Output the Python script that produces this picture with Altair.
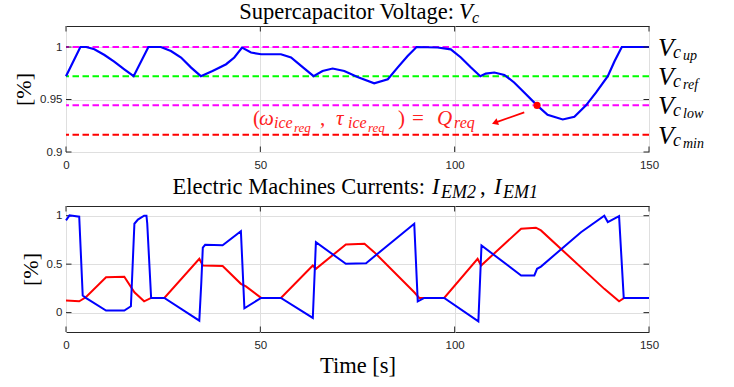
import altair as alt
import pandas as pd

# ---------------- data ----------------
# Supercapacitor voltage (top panel)
vc_t = [0, 3.7, 5.2, 7.3, 9.9, 12.4, 15.0, 17.4, 21.2, 24.4, 27.0, 29.6, 32.2, 34.7,
        37.7, 41.2, 43.3, 45.3, 47.6, 50.2, 55.3, 57.9, 60.5, 63.7, 66.0, 68.6, 71.6,
        75.0, 79.3, 82.8, 85.3, 87.9, 90.2, 95.6, 99.0, 101.6, 104.2, 106.6, 108.0,
        110.2, 112.8, 115.3, 117.9, 121.2, 123.9, 127.8, 130.8, 133.8, 136.4, 139.4,
        141.1, 143.0, 150]
vc_v = [0.9722, 1.0, 1.0, 0.9978, 0.9924, 0.9861, 0.9788, 0.9722, 1.0, 1.0, 0.9962,
        0.99, 0.9804, 0.9722, 0.9772, 0.9836, 0.99, 0.9994, 0.9947, 0.9931, 0.9931,
        0.99, 0.982, 0.9722, 0.9772, 0.9795, 0.9772, 0.9715, 0.9655, 0.9693, 0.9804,
        0.9915, 1.0, 0.9995, 0.9978, 0.99, 0.9804, 0.9722, 0.9747, 0.9757, 0.9734,
        0.9662, 0.9567, 0.9444, 0.9354, 0.931, 0.9335, 0.9444, 0.9567, 0.9722, 0.9861,
        1.0, 1.0]

# reference levels
ref_vals = [1.0, 0.9722, 0.9446, 0.9164]
ref_colors = ["#ff00ff", "#00ff00", "#ff00ff", "#ff0000"]
ref_subs = ["up", "ref", "low", "min"]

# marked point and arrow
pt_t, pt_v = [121.2], [0.9444]
arrow_t = [117.9, 110.6]
arrow_v = [0.9377, 0.9282]

# Electric machine currents (bottom panel)
red_t = [0, 3.4, 5.1, 10.3, 15.0, 17.6, 20.1, 21.9, 25.3, 34.3, 35.2, 40.3, 45.0, 46.3,
         50.2, 55.3, 63.5, 64.3, 72.0, 76.8, 79.3, 89.6, 90.9, 97.3, 105.9, 106.8,
         117.1, 120.9, 122.2, 138.5, 142.3, 143.6, 150]
red_v = [0.124, 0.117, 0.158, 0.365, 0.37, 0.21, 0.117, 0.152, 0.152, 0.555, 0.486,
         0.48, 0.297, 0.27, 0.152, 0.152, 0.486, 0.452, 0.703, 0.71, 0.624, 0.21, 0.152,
         0.152, 0.555, 0.486, 0.866, 0.876, 0.848, 0.245, 0.117, 0.152, 0.152]
blue_t = [0, 0.9, 1.7, 3.4, 4.3, 5.1, 10.3, 15.0, 16.7, 17.6, 18.5, 20.1, 20.7, 20.9,
          21.9, 25.3, 34.3, 34.8, 35.2, 35.8, 40.3, 45.0, 45.9, 50.2, 55.3, 63.5, 64.3,
          72.0, 77.2, 89.6, 90.5, 92.2, 97.3, 106.1, 106.9, 117.1, 120.5, 121.2, 122.2,
          132.5, 138.5, 139.4, 142.3, 143.5, 150]
blue_v = [0.952, 1.003, 1.0, 0.99, 0.176, 0.152, 0.021, 0.021, 0.065, 0.917, 0.96, 1.0,
          1.0, 0.92, 0.152, 0.152, -0.083, 0.3, 0.67, 0.70, 0.695, 0.84, 0.045, 0.152,
          0.152, -0.055, 0.727, 0.503, 0.51, 0.917, 0.117, 0.152, 0.152, -0.09, 0.693,
          0.383, 0.383, 0.452, 0.475, 0.83, 1.0, 0.934, 0.995, 0.152, 0.152]

x_ticks = [0, 50, 100, 150]
y_ticks_top = [0.9, 0.95, 1.0]
y_ticks_bot = [0, 0.5, 1]

# ---------------- styling ----------------
W, H = 583, 126
SERIF = "Liberation Serif"
SANS = "Liberation Sans"
GRID = "#dfdfdf"
FRAME = "#262626"
TICK = 5.5

one = pd.DataFrame({"a": [0]})


def piece(text, x, y, size, style="normal", color="black", align="left"):
    return alt.Chart(one).mark_text(
        text=text, font=SERIF, fontSize=size, fontStyle=style, color=color,
        align=align, baseline="alphabetic"
    ).encode(x=alt.value(x), y=alt.value(y))


def x_axis(title=None):
    kw = dict(values=x_ticks, grid=True, gridColor=GRID, domain=False, ticks=False,
              labelPadding=7, labelFont=SANS, labelFontSize=11.5, labelColor=FRAME,
              labelFlush=False)
    if title is None:
        return alt.Axis(title=None, **kw)
    return alt.Axis(title=title, titleFont=SERIF, titleFontSize=22.5,
                    titleFontWeight="normal", titleColor="black", titlePadding=4, **kw)


def y_axis(vals):
    return alt.Axis(values=vals, format="~g", grid=True, gridColor=GRID, domain=False,
                    ticks=False, labelPadding=4, labelFont=SANS, labelFontSize=11.5,
                    labelColor=FRAME, title="[%]", titleFont=SERIF, titleFontSize=22,
                    titleFontWeight="normal", titleColor="black", titlePadding=4)


def tick_layers(yvals, xa, ya):
    xt = pd.DataFrame({"t": x_ticks})
    yt = pd.DataFrame({"v": yvals})
    st = dict(color=FRAME, strokeWidth=1)
    return [
        alt.Chart(xt).mark_rule(**st).encode(x=alt.X("t:Q", axis=xa), y=alt.value(H), y2=alt.value(H - TICK)),
        alt.Chart(xt).mark_rule(**st).encode(x=alt.X("t:Q", axis=xa), y=alt.value(0), y2=alt.value(TICK)),
        alt.Chart(yt).mark_rule(**st).encode(y=alt.Y("v:Q", axis=ya), x=alt.value(0), x2=alt.value(TICK)),
        alt.Chart(yt).mark_rule(**st).encode(y=alt.Y("v:Q", axis=ya), x=alt.value(W - TICK), x2=alt.value(W)),
    ]


# ---------------- top panel ----------------
xa_t = x_axis()
ya_t = y_axis(y_ticks_top)
xs_top = alt.Scale(domain=[0, 150], nice=False)
ys_top = alt.Scale(domain=[0.9, 1.02], nice=False)

vc_df = pd.DataFrame({"t": vc_t, "v": vc_v})
ref_df = pd.DataFrame({"v": ref_vals, "c": ref_colors, "sub": ref_subs})

refs = alt.Chart(ref_df).mark_rule(strokeDash=[6.5, 3.5], strokeWidth=2).encode(
    y=alt.Y("v:Q", scale=ys_top, axis=ya_t), color=alt.Color("c:N", scale=None)
)
vc_line = alt.Chart(vc_df).mark_line(color="#0000ff", strokeWidth=2.2).encode(
    x=alt.X("t:Q", scale=xs_top, axis=xa_t),
    y=alt.Y("v:Q", scale=ys_top, axis=ya_t),
)
dot = alt.Chart(pd.DataFrame({"t": pt_t, "v": pt_v})).mark_circle(
    color="#ff0000", size=50, opacity=1
).encode(x=alt.X("t:Q", axis=xa_t), y=alt.Y("v:Q", axis=ya_t))
arrow_df = pd.DataFrame({"t": arrow_t, "v": arrow_v, "o": [0, 1]})
arrow = alt.Chart(arrow_df).mark_line(color="#ff0000", strokeWidth=1.8).encode(
    x=alt.X("t:Q", axis=xa_t), y=alt.Y("v:Q", axis=ya_t), order="o:Q"
)
head = alt.Chart(arrow_df.iloc[[1]]).mark_point(
    shape="triangle", angle=250, filled=True, size=50, color="#ff0000", opacity=1
).encode(x=alt.X("t:Q", axis=xa_t), y=alt.Y("v:Q", axis=ya_t))

# right-hand labels V_{c_xx}
lab_V = alt.Chart(ref_df).mark_text(
    text="V", font=SERIF, fontSize=26, fontStyle="italic", align="left",
    baseline="alphabetic", dy=9, color="black"
).encode(y=alt.Y("v:Q", axis=ya_t), x=alt.value(W + 9))
lab_c = alt.Chart(ref_df).mark_text(
    text="c", font=SERIF, fontSize=18, fontStyle="italic", align="left",
    baseline="alphabetic", dy=11, color="black"
).encode(y=alt.Y("v:Q", axis=ya_t), x=alt.value(W + 24))
lab_s = alt.Chart(ref_df).mark_text(
    font=SERIF, fontSize=14, fontStyle="italic", align="left",
    baseline="alphabetic", dy=13, color="black"
).encode(y=alt.Y("v:Q", axis=ya_t), x=alt.value(W + 34), text="sub:N")

RED = "#ff2020"
ann = [
    piece("(", 187, 99, 21, color=RED),
    piece("ω", 193, 99, 21, "italic", RED),
    piece("ice", 208, 102, 16, "italic", RED),
    piece("req", 228, 105.5, 13, "italic", RED),
    piece(",", 254, 99, 21, color=RED),
    piece("τ", 270, 99, 21, "italic", RED),
    piece("ice", 282, 102, 16, "italic", RED),
    piece("req", 302, 105.5, 13, "italic", RED),
    piece(")", 332, 99, 21, color=RED),
    piece("=", 346, 99, 21, color=RED),
    piece("Q", 371, 99, 21, "italic", RED),
    piece("req", 388, 102, 16, "italic", RED),
]

title_top = [
    piece("Supercapacitor Voltage:", 388, -7, 22.5, align="right"),
    piece("V", 393, -7, 22.5, "italic"),
    piece("c", 406, -3, 16, "italic"),
]

top = alt.layer(
    refs, vc_line, *tick_layers(y_ticks_top, xa_t, ya_t),
    arrow, head, dot, lab_V, lab_c, lab_s, *ann, *title_top
).properties(width=W, height=H)

# ---------------- bottom panel ----------------
xa_b = x_axis("Time [s]")
ya_b = y_axis(y_ticks_bot)
xs_bot = alt.Scale(domain=[0, 150], nice=False)
ys_bot = alt.Scale(domain=[-0.2, 1.1], nice=False)

red_df = pd.DataFrame({"t": red_t, "v": red_v})
blue_df = pd.DataFrame({"t": blue_t, "v": blue_v})

red_line = alt.Chart(red_df).mark_line(color="#ff0000", strokeWidth=2).encode(
    x=alt.X("t:Q", scale=xs_bot, axis=xa_b),
    y=alt.Y("v:Q", scale=ys_bot, axis=ya_b),
)
blue_line = alt.Chart(blue_df).mark_line(color="#0000ff", strokeWidth=2).encode(
    x=alt.X("t:Q", axis=xa_b), y=alt.Y("v:Q", axis=ya_b)
)

title_bot = [
    piece("Electric Machines Currents:", 359, -12, 22.5, align="right"),
    piece("I", 366, -12, 22.5, "italic"),
    piece("EM2", 375, -8, 18, "italic"),
    piece(",", 414, -12, 22.5),
    piece("I", 428, -12, 22.5, "italic"),
    piece("EM1", 437, -8, 18, "italic"),
]

bottom = alt.layer(
    red_line, *tick_layers(y_ticks_bot, xa_b, ya_b), blue_line, *title_bot
).properties(width=W, height=H)

chart = alt.vconcat(top, bottom, spacing=54, bounds="flush").properties(
    padding={"left": 12, "top": 0, "right": 5, "bottom": 2}
).configure_view(stroke=FRAME, strokeWidth=1)

chart.save("out.html", embed_options={"renderer": "svg", "actions": False})
